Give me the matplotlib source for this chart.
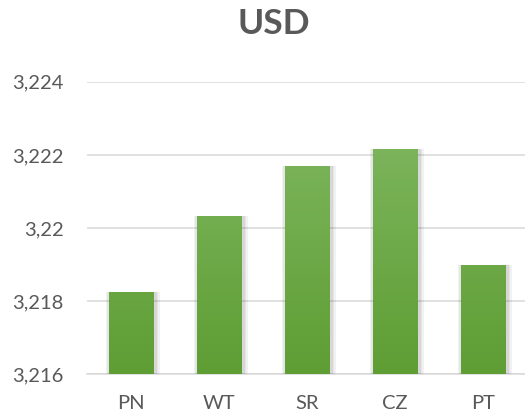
import numpy as np
import matplotlib
matplotlib.use('Agg')
import matplotlib.pyplot as plt
from matplotlib.colors import LinearSegmentedColormap

# =========================
# data
# =========================
categories = ['PN', 'WT', 'SR', 'CZ', 'PT']
usd_values = [3.21825, 3.22033, 3.22170, 3.22216, 3.21899]
y_ticks = [3.216, 3.218, 3.220, 3.222, 3.224]
y_tick_labels = ['3,216', '3,218', '3,22', '3,222', '3,224']

plt.rcParams['font.family'] = ['Lato', 'DejaVu Sans']

fig = plt.figure(figsize=(5.25, 4.15), dpi=100)
ax = fig.add_axes([0.1657, 0.098, 0.838, 0.705])

x = np.arange(len(categories))
bar_w = 0.51
y_min, y_max = 3.216, 3.224

green = LinearSegmentedColormap.from_list('g', ['#5e9e34', '#84ba66'])

# soft shadow behind the bars
for i, v in enumerate(usd_values):
    for k, a in enumerate([0.05, 0.05, 0.06]):
        grow = 0.035 * (3 - k)
        ax.bar(x[i] + 0.02, v - y_min + 0.00003 * (3 - k), bottom=y_min - 0.00003 * (3 - k),
               width=bar_w + grow, color='black', alpha=a, linewidth=0, zorder=2)

bars = ax.bar(x, [v - y_min for v in usd_values], bottom=y_min, width=bar_w,
              color='none', linewidth=0, zorder=3)

grad = np.linspace(0, 1, 256).reshape(-1, 1)
for b in bars:
    x0, y0 = b.get_x(), b.get_y()
    x1, y1 = x0 + b.get_width(), y0 + b.get_height()
    im = ax.imshow(grad, cmap=green, origin='lower', aspect='auto',
                   extent=[x0, x1, y_min, y_max], zorder=3)
    im.set_clip_path(b)

ax.set_xlim(-0.5, len(categories) - 0.5)
ax.set_ylim(y_min, y_max)
ax.set_yticks(y_ticks)
ax.set_yticklabels(y_tick_labels)
ax.set_xticks(x)
ax.set_xticklabels(categories)

ax.yaxis.grid(True, color='#d9d9d9', linewidth=1.1, zorder=1)
ax.set_axisbelow(True)
for s in ['top', 'right', 'left']:
    ax.spines[s].set_visible(False)
ax.spines['bottom'].set_color('#d9d9d9')
ax.spines['bottom'].set_linewidth(1.1)
ax.spines['bottom'].set_zorder(1)

ax.tick_params(axis='y', length=0, pad=17, labelsize=14.5, labelcolor='#595959')
ax.tick_params(axis='x', length=0, pad=15, labelsize=14.5, labelcolor='#595959')

fig.text(0.522, 0.942, 'USD', ha='center', va='center', fontsize=25.5,
         fontweight='bold', color='#595959')

fig.savefig('out.png', dpi=100)
